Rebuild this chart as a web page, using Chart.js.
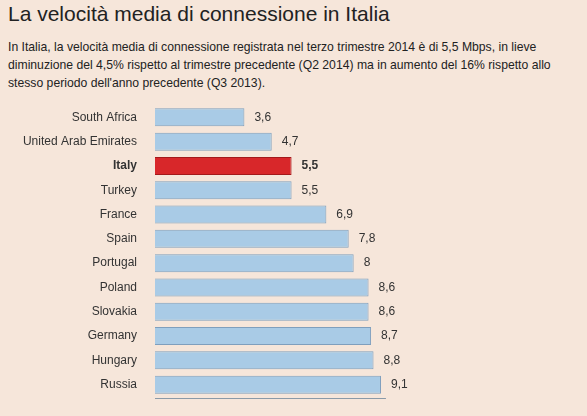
<!DOCTYPE html><html><head><meta charset="utf-8">
<script src="https://cdn.jsdelivr.net/npm/chart.js@4"></script>
<style>
body{margin:0;background:#f6e6da;width:587px;height:416px;overflow:hidden;font-family:Arial,"Liberation Sans",sans-serif;position:relative}
h1{position:absolute;left:8px;top:2px;margin:0;font-weight:normal;font-size:21px;color:#222}
p{position:absolute;left:8px;top:38px;margin:0;width:575px;font-size:12.2px;line-height:18px;color:#222}
#w{position:absolute;left:0;top:88px;width:587px;height:326px}
</style></head><body>
<h1>La velocità media di connessione in Italia</h1>
<p>In Italia, la velocità media di connessione registrata nel terzo trimestre 2014 è di 5,5 Mbps, in lieve diminuzione del 4,5% rispetto al trimestre precedente (Q2 2014) ma in aumento del 16% rispetto allo stesso periodo dell'anno precedente (Q3 2013).</p>
<div id="w"><canvas id="c"></canvas></div>
<script>
const categories=["South Africa","United Arab Emirates","Italy","Turkey","France","Spain","Portugal","Poland","Slovakia","Germany","Hungary","Russia"];
const values=[3.6,4.7,5.5,5.5,6.9,7.8,8,8.6,8.6,8.7,8.8,9.1];
const highlight="Italy";
const fills=categories.map(c=>c===highlight?"#d8272a":"#a9cbe6");
const borders=categories.map(c=>c===highlight?"#a3191b":"#7f9fbd");
const lbl={id:"lbl",afterDatasetsDraw(ch){const ctx=ch.ctx,m=ch.getDatasetMeta(0);ctx.save();ctx.textBaseline="middle";ctx.fillStyle="#333";
m.data.forEach((b,i)=>{ctx.font=(categories[i]===highlight?"bold ":"")+"12px Arial";ctx.fillText(String(values[i]).replace(".",","),b.x+10,b.y);});
const x=ch.scales.x;ctx.strokeStyle="#8a9aa8";ctx.lineWidth=1;ctx.beginPath();ctx.moveTo(x.getPixelForValue(0),310.5);ctx.lineTo(x.getPixelForValue(9.3),310.5);ctx.stroke();ctx.restore();}};
new Chart(document.getElementById("c"),{type:"bar",data:{labels:categories,datasets:[{data:values,backgroundColor:fills,borderColor:borders,borderWidth:1,barPercentage:0.74,categoryPercentage:1}]},
options:{indexAxis:"y",responsive:true,maintainAspectRatio:false,animation:false,layout:{padding:{top:4,right:134,bottom:4,left:0}},
plugins:{legend:{display:false},tooltip:{enabled:false}},
scales:{x:{display:false,min:0,max:12},y:{afterFit(s){s.width=155},grid:{display:false},border:{display:false},
ticks:{color:"#333",padding:10,font:c=>({family:"Arial",size:12,weight:categories[c.index]===highlight?"bold":"normal"})}}}},plugins:[lbl]});
</script></body></html>
